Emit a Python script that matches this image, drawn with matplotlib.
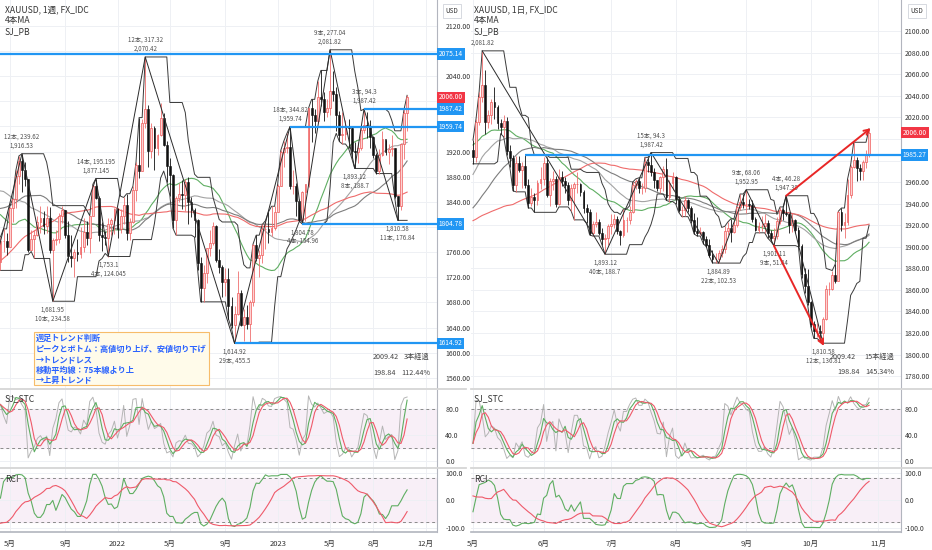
import numpy as np
import pandas as pd
import matplotlib
matplotlib.use("Agg")
import matplotlib.pyplot as plt
from matplotlib.patches import Rectangle

plt.rcParams['font.family'] = ['Noto Sans CJK JP', 'DejaVu Sans']

# ---------------- weekly XAUUSD (week starting 2021-04-12 .. 2023-10-23) ----------------
wk_pre_close = [1459, 1468, 1463, 1464, 1460, 1476, 1478, 1510, 1552, 1562,
                1557, 1571, 1589, 1570, 1584, 1644, 1585, 1674, 1530, 1498,
                1617, 1620, 1683, 1683, 1728, 1700, 1703, 1743, 1735, 1730,
                1685, 1730, 1743, 1771, 1775, 1799, 1810, 1902, 1975, 2035,
                1944, 1940, 1964, 1934, 1940, 1950, 1862, 1900, 1930, 1899,
                1902, 1879, 1951, 1889, 1872, 1788, 1839, 1839, 1881, 1883,
                1895, 1850, 1828, 1856, 1848, 1814, 1824, 1784, 1734, 1700,
                1727, 1745, 1733, 1728, 1744]
wk_close = [1777, 1777, 1769, 1831, 1844, 1881, 1905, 1891, 1877, 1764,
            1781, 1787, 1808, 1815, 1802, 1814, 1763, 1780, 1781, 1818,
            1827, 1787, 1754, 1750, 1761, 1757, 1768, 1792, 1783, 1818,
            1865, 1846, 1788, 1784, 1783, 1804, 1811, 1829, 1797, 1818,
            1835, 1791, 1808, 1859, 1898, 1889, 1966, 1988, 1921, 1958,
            1925, 1946, 1974, 1931, 1897, 1883, 1811, 1846, 1853, 1851,
            1871, 1840, 1827, 1811, 1742, 1703, 1727, 1766, 1775, 1802,
            1747, 1737, 1712, 1717, 1675, 1644, 1661, 1695, 1644, 1657,
            1645, 1681, 1771, 1751, 1755, 1797, 1797, 1792, 1798, 1824,
            1865, 1920, 1926, 1928, 1865, 1865, 1842, 1811, 1856, 1868,
            1989, 1978, 1969, 2007, 2004, 1983, 1990, 2016, 2011, 1978,
            1946, 1948, 1961, 1958, 1921, 1919, 1925, 1955, 1962, 1959,
            1943, 1914, 1889, 1914, 1940, 1919, 1924, 1925, 1849, 1833,
            1932, 1981, 2006]
wk_high = [1784, 1797, 1790, 1832, 1845, 1890, 1913, 1916.53, 1903, 1877,
           1795, 1795, 1818, 1834, 1825, 1833, 1832, 1782, 1795, 1823,
           1834, 1827, 1809, 1787, 1765, 1781, 1800, 1814, 1810, 1818,
           1868, 1877.145, 1849, 1808, 1793, 1815, 1815, 1831, 1831, 1829,
           1847, 1853, 1815, 1865, 1903, 1974, 1971, 2070.42, 1994, 1966,
           1960, 1948, 1998, 1982, 1937, 1910, 1884, 1849, 1870, 1874,
           1876, 1879, 1847, 1830, 1812, 1752, 1739, 1767, 1795, 1808,
           1803, 1765, 1740, 1735, 1735, 1688, 1675, 1730, 1700, 1670,
           1676, 1684, 1773, 1787, 1764, 1804, 1810, 1824, 1833, 1833,
           1869, 1922, 1937, 1949, 1959.74, 1890, 1870, 1845, 1858, 1869,
           1989, 2003, 1987, 2032, 2049, 2015, 2004, 2081.82, 2048, 2022,
           1985, 1983, 1970, 1971, 1959, 1935, 1935, 1963, 1987.42, 1983,
           1970, 1944, 1917, 1924, 1953, 1938, 1932, 1947, 1925, 1850,
           1933, 1987, 2009.42]
wk_low = [1731, 1760, 1756, 1769, 1808, 1831, 1869, 1855, 1866, 1761,
          1770, 1750, 1786, 1791, 1789, 1790, 1758, 1681.95, 1772, 1774,
          1806, 1782, 1745, 1737, 1721, 1746, 1750, 1760, 1771, 1758,
          1823, 1844, 1778, 1762, 1771, 1753.1, 1788, 1789, 1782, 1791,
          1805, 1780, 1780, 1806, 1842, 1878, 1889, 1958, 1895, 1910,
          1890, 1915, 1945, 1929, 1872, 1850, 1798, 1787, 1840, 1829,
          1825, 1805, 1816, 1784, 1732, 1681, 1681, 1711, 1754, 1772,
          1745, 1727, 1689, 1690, 1654, 1639, 1614.92, 1660, 1642, 1618,
          1638, 1617, 1674, 1746, 1721, 1743, 1765, 1774, 1785, 1796,
          1824, 1866, 1896, 1917, 1861, 1853, 1818, 1809, 1804.78, 1810,
          1864, 1935, 1949, 1966, 1992, 1969, 1975, 1978, 2000, 1952,
          1936, 1932, 1938, 1925, 1910, 1893.12, 1902, 1922, 1950, 1942,
          1925, 1910, 1885, 1885, 1913, 1914, 1901, 1913, 1846, 1810.58,
          1827, 1908, 1953]
wk_tick_pos = [3, 21, 38, 55, 73, 90, 107, 121, 138]
wk_tick_lab = ['5月', '9月', '2022', '5月', '9月', '2023', '5月', '8月', '12月']
wk_zz_idx = [-5, 7, 17, 31, 35, 47, 76, 94, 98, 107, 115, 118, 129]
wk_zz_price = [1676.91, 1916.53, 1681.95, 1877.145, 1753.1, 2070.42, 1614.92,
               1959.74, 1804.78, 2081.82, 1893.12, 1987.42, 1810.58]
wk_zz_label = ['', '12本, 239.62\n1,916.53', '1,681.95\n10本, 234.58',
               '14本, 195.195\n1,877.145', '1,753.1\n4本, 124.045',
               '12本, 317.32\n2,070.42', '1,614.92\n29本, 455.5',
               '18本, 344.82\n1,959.74', '1,804.78\n4本, 154.96',
               '9本, 277.04\n2,081.82', '1,893.12\n8本, 188.7',
               '3本, 94.3\n1,987.42', '1,810.58\n11本, 176.84']
wk_levels = [2075.14, 1987.42, 1959.74, 1804.78, 1614.92]
wk_level_start = [-5, 118, 94, 98, 76]

# ---------------- daily XAUUSD (2023-05-01 .. 2023-10-27) ----------------
dy_pre_close = [1909, 1908, 1904, 1932, 1926, 1931, 1936, 1946, 1929, 1928, 1923, 1928,
                1951, 1912, 1865, 1867, 1873, 1875, 1861, 1865, 1853, 1855,
                1835, 1836, 1842, 1841, 1835, 1825, 1822, 1811, 1817, 1827,
                1836, 1836, 1856, 1847, 1813, 1814, 1831, 1868, 1913, 1904,
                1918, 1919, 1989, 1979, 1940, 1970, 1993, 1978, 1956, 1973,
                1964, 1980, 1969,
                1985, 2020, 2021, 2008, 2007, 1993, 2003, 2015, 2040, 2004,
                1995, 2005, 1995, 2004, 1983, 1989, 1997, 1989, 1989, 1990]
dy_close = [1983, 2016, 2039, 2050, 2016, 2022, 2034, 2030, 2015, 2011,
            2017, 1989, 1982, 1957, 1978, 1971, 1975, 1957, 1941, 1946,
            1943, 1959, 1963, 1978, 1948, 1961, 1963, 1940, 1965, 1961,
            1957, 1943, 1955, 1958, 1958, 1951, 1936, 1932, 1913, 1921,
            1923, 1913, 1907, 1908, 1919, 1921, 1926, 1915, 1911, 1925,
            1925, 1932, 1957, 1961, 1955, 1955, 1979, 1976, 1969, 1962,
            1955, 1965, 1972, 1946, 1959, 1965, 1944, 1934, 1934, 1943,
            1936, 1925, 1915, 1913, 1914, 1907, 1902, 1892, 1889, 1889,
            1894, 1898, 1915, 1917, 1914, 1920, 1937, 1942, 1940, 1940,
            1939, 1926, 1916, 1919, 1919, 1922, 1913, 1908, 1910, 1924,
            1934, 1931, 1930, 1920, 1925, 1916, 1901, 1875, 1864, 1849,
            1828, 1822, 1822, 1820, 1833, 1861, 1861, 1874, 1868, 1932,
            1920, 1923, 1948, 1974, 1981, 1973, 1970, 1979, 1985, 2006]
dy_high = [1999, 2019, 2044, 2081.82, 2064, 2027, 2037, 2048, 2032, 2019,
           2022, 2020, 1994, 1985, 1984, 1984, 1979, 1985, 1963, 1955,
           1950, 1962, 1974, 1983, 1983, 1964, 1970, 1966, 1972, 1970,
           1965, 1960, 1958, 1960, 1969, 1959, 1953, 1940, 1935, 1924,
           1932, 1926, 1917, 1912, 1921, 1930, 1930, 1929, 1916, 1935,
           1928, 1938, 1960, 1963, 1964, 1959, 1983, 1982, 1987.42, 1973,
           1962, 1966, 1975, 1982, 1962, 1969, 1966, 1947, 1938, 1947,
           1944, 1938, 1931, 1928, 1918, 1915, 1910, 1907, 1897, 1894,
           1897, 1902, 1919, 1923, 1926, 1925, 1938, 1949, 1949, 1952.95,
           1944, 1943, 1928, 1923, 1929, 1930, 1925, 1916, 1917, 1928,
           1937, 1936, 1947.39, 1931, 1931, 1926, 1918, 1903, 1880, 1879,
           1850, 1831, 1829, 1827, 1835, 1865, 1867, 1878, 1884, 1933,
           1936, 1931, 1963, 1976, 1997, 1983, 1977, 1981, 1990, 2009.42]
dy_low = [1977, 1979, 2013, 2034, 2005, 2010, 2014, 2019, 2009, 2005,
          2002, 1985, 1974, 1952, 1951, 1969, 1955, 1955, 1936, 1938,
          1932, 1939, 1954, 1957, 1946, 1938, 1953, 1937, 1939, 1956,
          1950, 1939, 1933, 1925, 1950, 1947, 1931, 1922, 1911, 1910,
          1918, 1911, 1902, 1893.12, 1902, 1912, 1917, 1912, 1902, 1909,
          1914, 1921, 1931, 1954, 1950, 1949, 1951, 1969, 1966, 1955,
          1952, 1950, 1952, 1943, 1942, 1953, 1940, 1932, 1928, 1929,
          1932, 1922, 1912, 1910, 1911, 1903, 1900, 1891, 1885, 1885,
          1884.89, 1891, 1894, 1911, 1904, 1913, 1918, 1934, 1936, 1931,
          1935, 1923, 1915, 1913, 1915, 1913, 1908, 1905, 1901.11, 1907,
          1921, 1925, 1929, 1913, 1914, 1913, 1900, 1871, 1857, 1846,
          1826, 1815, 1816, 1813, 1810.58, 1832, 1855, 1860, 1866, 1868,
          1915, 1908, 1920, 1945, 1973, 1961, 1962, 1962, 1973, 1983]
dy_tick_pos = [0, 23, 45, 66, 89, 110, 132]
dy_tick_lab = ['5月', '6月', '7月', '8月', '9月', '10月', '11月']
dy_zz_idx = [3, 43, 58, 80, 89, 98, 102, 114]
dy_zz_price = [2081.82, 1893.12, 1987.42, 1884.89, 1952.95, 1901.11, 1947.39, 1810.58]
dy_zz_label = ['2,081.82', '1,893.12\n40本, 188.7', '15本, 94.3\n1,987.42',
               '1,884.89\n22本, 102.53', '9本, 68.06\n1,952.95',
               '1,901.11\n9本, 51.84', '4本, 46.28\n1,947.39',
               '1,810.58\n12本, 136.81']
dy_levels = [1985.27]
dy_level_start = [17]

ma_periods = [26, 40, 52, 75]
ma_colors = ['#5fae62', '#a3a3a3', '#7d7d7d', '#ef6b6b']

W, H = 932, 550
fig = plt.figure(figsize=(W / 100, H / 100), dpi=100)
fig.patch.set_facecolor('white')


def px_axes(l, t, w, h):
    return fig.add_axes([l / W, 1 - (t + h) / H, w / W, h / H])


def ftext(x, y, s, **kw):
    return fig.text(x / W, 1 - y / H, s, **kw)


def rci(c, n):
    out = np.full(len(c), np.nan)
    t_rank = np.arange(n, 0, -1)
    for k in range(n - 1, len(c)):
        p_rank = pd.Series(c[k - n + 1:k + 1]).rank(ascending=False).values
        out[k] = (1 - 6 * np.sum((t_rank - p_rank) ** 2) / (n * (n * n - 1))) * 100
    return out


def style_axis(ax, xlim, ticks, grid_pos, fmt, pad, labels=None):
    ax.set_xlim(*xlim)
    for s in ['top', 'left', 'bottom']:
        ax.spines[s].set_visible(False)
    ax.spines['right'].set_color('#b2b5be')
    ax.spines['right'].set_linewidth(0.8)
    ax.yaxis.tick_right()
    ax.set_yticks(ticks)
    ax.set_yticklabels(labels if labels is not None else [fmt % t for t in ticks])
    ax.tick_params(axis='y', length=0, labelsize=5, colors='#333333', pad=pad)
    ax.set_xticks(grid_pos)
    ax.tick_params(axis='x', length=0, labelbottom=False)
    ax.grid(True, color='#eef0f4', lw=0.7)
    ax.set_axisbelow(True)


def tag(ax, y, s, fc):
    ax.text(1.004, y, s, transform=ax.get_yaxis_transform(), ha='left', va='center',
            fontsize=4.8, color='white', clip_on=False, zorder=20,
            bbox=dict(boxstyle='square,pad=0.25', fc=fc, ec='none'))


def draw_side(left, width, pad, pre, c, h, l, xlim, ylim, yticks, tpos, tlab,
              zz_i, zz_p, zz_l, levels, lstart):
    pre = np.array(pre, float)
    c = np.array(c, float)
    h = np.array(h, float)
    l = np.array(l, float)
    full = np.concatenate([pre, c])
    o = full[len(pre) - 1:-1]
    x = np.arange(len(c))

    ax = px_axes(left, 0, width, 388)
    ax1 = px_axes(left, 390, width, 77)
    ax2 = px_axes(left, 468, width, 64)

    # price ticks hidden where a price tag sits on top of them
    tagged = list(levels) + [c[-1]]
    px_unit = 388 / (ylim[1] - ylim[0])
    ylabels = ['' if min(abs(t - v) for v in tagged) * px_unit < 8 else '%.2f' % t
               for t in yticks]
    style_axis(ax, xlim, yticks, tpos, '%.2f', pad, ylabels)
    ax.set_ylim(*ylim)

    # moving averages
    for n, col in zip(ma_periods, ma_colors):
        ma = pd.Series(full).rolling(n).mean().values[len(pre):]
        ax.plot(x, ma, color=col, lw=0.8, zorder=2)

    # SJ_PB envelope
    up_env = pd.Series(h).rolling(8, min_periods=1).max().values
    lo_env = pd.Series(l).rolling(8, min_periods=1).min().values
    ax.plot(x, up_env, color='#3a3a3a', lw=0.7, zorder=2)
    ax.plot(x, lo_env, color='#3a3a3a', lw=0.7, zorder=2)

    # candles
    up = c >= o
    ax.vlines(x[up], l[up], h[up], color='#ef6f6f', lw=0.6, zorder=3)
    ax.vlines(x[~up], l[~up], h[~up], color='#111111', lw=0.6, zorder=3)
    ax.bar(x[up], c[up] - o[up], bottom=o[up], width=0.6, color='#fcd3d3',
           edgecolor='#ef5a5a', lw=0.5, zorder=4)
    ax.bar(x[~up], c[~up] - o[~up], bottom=o[~up], width=0.6, color='#111111',
           edgecolor='#111111', lw=0.4, zorder=4)

    # zigzag
    ax.plot(zz_i, zz_p, color='#2b2b2b', lw=0.7, zorder=5)
    for k, (xi, p, s) in enumerate(zip(zz_i, zz_p, zz_l)):
        if not s:
            continue
        ref = zz_p[k - 1] if k > 0 else zz_p[k + 1]
        peak = p > ref
        ax.annotate(s, (xi, p), xytext=(0, 3 if peak else -3), textcoords='offset points',
                    ha='center', va='bottom' if peak else 'top', fontsize=4.4,
                    color='#505050', linespacing=1.15, zorder=6, annotation_clip=False,
                    clip_on=True)

    # horizontal levels
    for lv, st in zip(levels, lstart):
        ax.hlines(lv, st, xlim[1], color='#2196f3', lw=1.6, zorder=7)
        tag(ax, lv, '%.2f' % lv, '#2196f3')
    tag(ax, c[-1], '%.2f' % c[-1], '#f23645')

    # stochastic
    hh = pd.Series(h).rolling(9, min_periods=1).max()
    ll = pd.Series(l).rolling(9, min_periods=1).min()
    k_line = 100 * (pd.Series(c) - ll) / (hh - ll)
    d_line = k_line.rolling(3, min_periods=1).mean()
    sd_line = d_line.rolling(3, min_periods=1).mean()
    style_axis(ax1, xlim, [0, 40, 80], tpos, '%.1f', pad)
    ax1.set_ylim(-9, 109)
    ax1.axhspan(20, 80, color='#f8eff7', zorder=0)
    for v in (20, 80):
        ax1.axhline(v, color='#8a8a8a', lw=0.7, ls=(0, (3, 3)))
    ax1.plot(x, k_line, color='#b5b5b5', lw=0.7)
    ax1.plot(x, d_line, color='#5fae62', lw=0.8)
    ax1.plot(x, sd_line, color='#ef5a6a', lw=0.8)

    # RCI
    r9 = rci(full, 9)[len(pre):]
    r26 = rci(full, 26)[len(pre):]
    style_axis(ax2, xlim, [-100, 0, 100], tpos, '%.1f', pad)
    ax2.set_ylim(-115, 118)
    ax2.axhspan(-80, 80, color='#f8eff7', zorder=0)
    for v in (-80, 80):
        ax2.axhline(v, color='#8a8a8a', lw=0.7, ls=(0, (3, 3)))
    ax2.plot(x, r9, color='#5fae62', lw=0.8)
    ax2.plot(x, r26, color='#ef5a6a', lw=0.8)
    ax2.tick_params(axis='x', labelbottom=True, labelsize=5.5, colors='#333333', pad=6)
    ax2.set_xticklabels(tlab)
    ax2.spines['bottom'].set_visible(True)
    ax2.spines['bottom'].set_color('#b2b5be')
    ax2.spines['bottom'].set_linewidth(1.2)
    return ax, ax1, ax2


axL, axL1, axL2 = draw_side(0, 437, 6, wk_pre_close, wk_close, wk_high, wk_low,
                            (-0.14, 141.7), (1544, 2161), np.arange(1560, 2121, 40),
                            wk_tick_pos, wk_tick_lab, wk_zz_idx, wk_zz_price, wk_zz_label,
                            wk_levels, wk_level_start)
axR, axR1, axR2 = draw_side(471, 430, 2.5, dy_pre_close, dy_close, dy_high, dy_low,
                            (-0.65, 139.4), (1769, 2129), np.arange(1780, 2101, 20),
                            dy_tick_pos, dy_tick_lab, dy_zz_idx, dy_zz_price, dy_zz_label,
                            dy_levels, dy_level_start)

# red trend arrows on the daily chart
arrow = dict(arrowstyle='->', color='#e82626', lw=1.4, mutation_scale=9, shrinkA=0, shrinkB=0)
axR.annotate('', xy=(129.5, 2010), xytext=(102, 1947.39), arrowprops=arrow, zorder=8)
axR.annotate('', xy=(114.3, 1808), xytext=(98, 1901.11), arrowprops=arrow, zorder=8)

# panel separators
for x0, x1 in ((0, 466), (471, 932)):
    for yy in (389, 467.5):
        fig.add_artist(plt.Line2D([x0 / W, x1 / W], [1 - yy / H] * 2, color='#d6d6d6', lw=1.3))

# legends
for x0, tf in ((5, '1週'), (474, '1日')):
    ftext(x0, 10, 'XAUUSD, %s, FX_IDC' % tf, fontsize=6.2, color='#333333', va='center')
    ftext(x0, 21, '4本MA', fontsize=6.2, color='#333333', va='center')
    ftext(x0, 32, 'SJ_PB', fontsize=6.2, color='#333333', va='center')
    ftext(x0, 399, 'SJ_STC', fontsize=6.2, color='#333333', va='center')
    ftext(x0, 479, 'RCI', fontsize=6.2, color='#333333', va='center')
for x0 in (452, 917):
    ftext(x0, 11, 'USD', fontsize=4.6, color='#333333', ha='center', va='center',
          bbox=dict(boxstyle='square,pad=0.4', fc='white', ec='#d0d3da', lw=0.6))

# elapsed summaries
ftext(373, 357, '2009.42', fontsize=5.2, color='#444444', va='center')
ftext(430, 357, '3本経過', fontsize=5.2, color='#444444', va='center', ha='right')
ftext(373, 373, '198.84', fontsize=5.2, color='#444444', va='center')
ftext(430, 373, '112.44%', fontsize=5.2, color='#444444', va='center', ha='right')
ftext(830, 357, '2009.42', fontsize=5.2, color='#444444', va='center')
ftext(894, 357, '15本経過', fontsize=5.2, color='#444444', va='center', ha='right')
ftext(837, 372, '198.84', fontsize=5.2, color='#444444', va='center')
ftext(894, 372, '145.34%', fontsize=5.2, color='#444444', va='center', ha='right')

# weekly trend note box
fig.add_artist(Rectangle((34 / W, 1 - 385 / H), 175 / W, 53 / H, transform=fig.transFigure,
                         fc='#fffbea', ec='#f7bc6a', lw=0.8, zorder=9))
ftext(36, 334, '週足トレンド判断\nピークとボトム：高値切り上げ、安値切り下げ\n→トレンドレス\n'
      '移動平均線：75本線より上\n→上昇トレンド', fontsize=5.9, color='#2962ff',
      fontweight='bold', va='top', ha='left', linespacing=1.22, zorder=10)

fig.savefig('out.png', dpi=100)
